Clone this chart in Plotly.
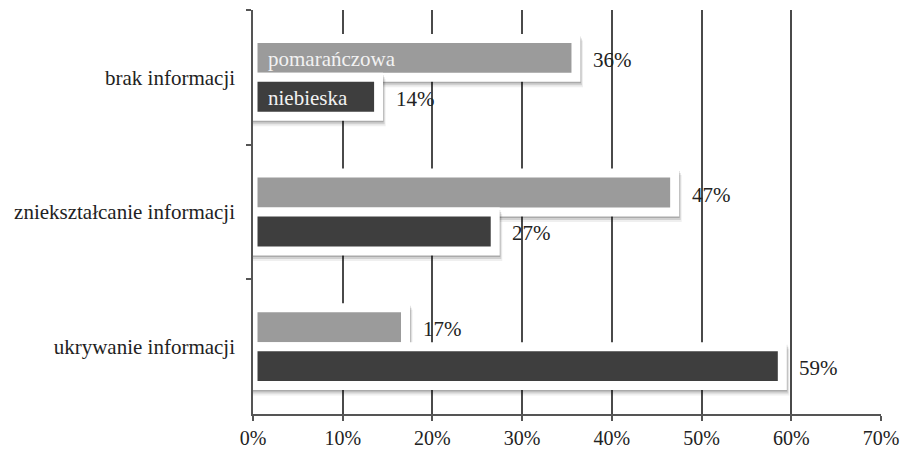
import plotly.graph_objects as go

# Survey answers, categories listed top to bottom
categories = ["brak informacji", "zniekształcanie informacji", "ukrywanie informacji"]
series_names = ["pomarańczowa", "niebieska"]
pomaranczowa = [36, 47, 17]
niebieska = [14, 27, 59]

x_ticks = [0, 10, 20, 30, 40, 50, 60, 70]
x_tick_labels = [f"{t}%" for t in x_ticks]

FONT = "Liberation Serif, Times New Roman, serif"
FS = 21
BAR_W = 0.289          # bar thickness in category units
PX_X = 70 / 628        # one pixel in % units
PX_Y = 1 / 134         # one pixel in category units

fills = ["#9b9b9b", "#3e3e3e"]
inner_text = ["#f2f2f2", "#f2f2f2"]
offsets = [-BAR_W, 0.0]
values = [pomaranczowa, niebieska]

fig = go.Figure()

# Soft drop shadow layers behind each bar box
shadow_layers = [(1, 2, 0.18), (2, 4, 0.12), (3, 6, 0.06)]

for s, vals in enumerate(values):
    for dx, dy, op in shadow_layers:
        fig.add_trace(go.Bar(
            y=categories, x=vals, base=dx * PX_X, orientation="h",
            offset=offsets[s] + dy * PX_Y, width=BAR_W,
            marker=dict(color="black", line=dict(color="black", width=8)),
            opacity=op, hoverinfo="skip", showlegend=False,
        ))
    fig.add_trace(go.Bar(
        y=categories, x=vals, orientation="h", name=series_names[s],
        offset=offsets[s], width=BAR_W,
        marker=dict(color=fills[s], line=dict(color="white", width=9)),
        hoverinfo="skip", showlegend=False,
    ))

annotations = []
for s, vals in enumerate(values):
    for i, v in enumerate(vals):
        yc = i + offsets[s] + BAR_W / 2
        annotations.append(dict(
            x=v, y=yc, xref="x", yref="y", text=f"{v}%",
            showarrow=False, xanchor="left", yanchor="middle",
            xshift=15, yshift=-2,
            font=dict(family=FONT, size=FS, color="#222222"),
        ))
    # series name written inside the first group's bars
    annotations.append(dict(
        x=0, y=0 + offsets[s] + BAR_W / 2, xref="x", yref="y",
        text=series_names[s], showarrow=False, xanchor="left",
        yanchor="middle", xshift=13, yshift=-1,
        font=dict(family=FONT, size=FS, color=inner_text[s]),
    ))

fig.update_layout(
    width=902, height=450,
    margin=dict(l=253, r=21, t=10, b=36),
    barmode="overlay",
    paper_bgcolor="white", plot_bgcolor="white",
    hovermode=False,
    annotations=annotations,
    font=dict(family=FONT, size=FS, color="#222222"),
    xaxis=dict(
        range=[0, 70], tickmode="array", tickvals=x_ticks, ticktext=x_tick_labels,
        showgrid=True, gridcolor="#4a4a4a", gridwidth=1.5,
        showline=True, linecolor="#555555", linewidth=1.5,
        ticks="outside", ticklen=5, tickcolor="#555555", tickwidth=1.5,
        ticklabelstandoff=0, zeroline=False, fixedrange=True, automargin=False,
        tickfont=dict(family=FONT, size=20, color="#222222"),
    ),
    yaxis=dict(
        type="category", categoryorder="array", categoryarray=categories,
        range=[2.5, -0.5], tickson="boundaries",
        showgrid=False, showline=True, linecolor="#555555", linewidth=1.5,
        ticks="outside", ticklen=5, tickcolor="#555555", tickwidth=1.5,
        ticklabelstandoff=12, zeroline=False, fixedrange=True, automargin=False,
        tickfont=dict(family=FONT, size=FS, color="#222222"),
    ),
)

fig.write_html("out.html")
